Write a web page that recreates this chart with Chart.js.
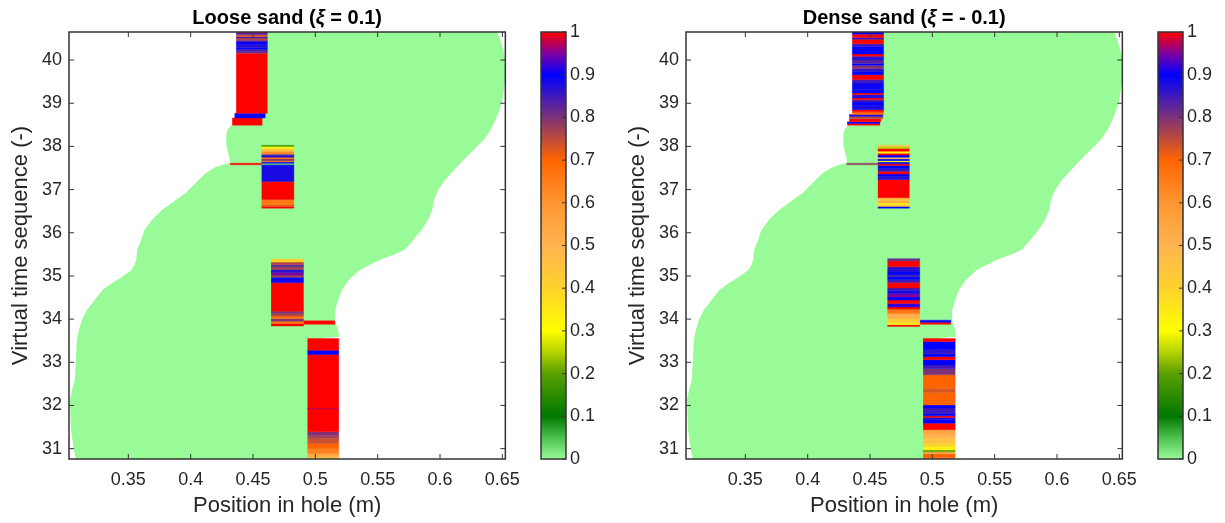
<!DOCTYPE html>
<html>
<head>
<meta charset="utf-8">
<script src="https://cdn.jsdelivr.net/npm/chart.js"></script>
<style>
  html, body { margin: 0; padding: 0; background: #fff; overflow: hidden; }
  canvas { position: absolute; top: 0; }
</style>
</head>
<body>
<canvas id="looseMain" width="530" height="523" style="left:0px"></canvas>
<canvas id="looseBar" width="78" height="523" style="left:530px"></canvas>
<canvas id="denseMain" width="530" height="523" style="left:617px"></canvas>
<canvas id="denseBar" width="78" height="523" style="left:1147px"></canvas>
<script>
// Tick values
const xTicks = [0.35, 0.4, 0.45, 0.5, 0.55, 0.6, 0.65];
const yTicks = [31, 32, 33, 34, 35, 36, 37, 38, 39, 40];
const cbTicks = [0, 0.1, 0.2, 0.3, 0.4, 0.5, 0.6, 0.7, 0.8, 0.9, 1];

// Sand boundary [y, x], top to bottom (same shape in both panels)
const sandLeftEdge = [
  [40.65, 0.455], [38.50, 0.455], [38.49, 0.4325], [38.38, 0.4294], [38.26, 0.4286],
  [38.03, 0.4286], [37.92, 0.4294], [37.75, 0.4310], [37.62, 0.4317], [37.57, 0.4250],
  [37.52, 0.4198], [37.38, 0.4119], [37.15, 0.4040], [36.92, 0.3960], [36.76, 0.3881],
  [36.53, 0.3770], [36.30, 0.3690], [36.06, 0.3627], [35.83, 0.3603], [35.60, 0.3571],
  [35.37, 0.3563], [35.25, 0.3548], [35.14, 0.3524], [34.98, 0.3452], [34.84, 0.3373],
  [34.68, 0.3294], [34.44, 0.3230], [34.21, 0.3167], [33.98, 0.3127], [33.75, 0.3103],
  [33.52, 0.3087], [33.06, 0.3079], [32.59, 0.3071], [32.36, 0.3048], [32.13, 0.3032],
  [31.44, 0.3040], [30.97, 0.3063], [30.76, 0.3079]
];
const sandRightEdge = [
  [40.65, 0.6460], [40.46, 0.6484], [40.23, 0.6508], [40.00, 0.6524], [39.54, 0.6524],
  [39.07, 0.6500], [38.84, 0.6476], [38.61, 0.6444], [38.38, 0.6405], [38.15, 0.6349],
  [37.92, 0.6270], [37.69, 0.6190], [37.45, 0.6111], [37.22, 0.6040], [36.99, 0.5984],
  [36.76, 0.5952], [36.53, 0.5937], [36.30, 0.5905], [36.06, 0.5849], [35.83, 0.5786],
  [35.60, 0.5714], [35.49, 0.5627], [35.37, 0.5516], [35.26, 0.5437], [35.14, 0.5357],
  [34.91, 0.5270], [34.68, 0.5214], [34.44, 0.5183], [34.21, 0.5159], [33.98, 0.5159],
  [33.87, 0.5167], [33.75, 0.5183], [33.59, 0.5190], [33.56, 0.5050], [30.76, 0.5050]
];

// Stripe bands [yFrom, yTo, value] -- loose sand
const looseTop = [
  [40.63, 40.65, 0.97], [40.59, 40.63, 0.84], [40.54, 40.59, 0.73], [40.51, 40.54, 0.85],
  [40.46, 40.51, 0.76], [40.42, 40.46, 0.84], [40.36, 40.42, 0.9], [40.29, 40.36, 0.87],
  [40.25, 40.29, 0.9], [40.19, 40.25, 0.84], [40.16, 40.19, 0.8], [38.77, 40.16, 1]
];
const looseTopFootA = [[38.66, 38.77, 0.89]];
const looseTopFootB = [[38.49, 38.66, 1]];
const looseUpper = [
  [38.00, 38.025, 0.18], [37.95, 38.00, 0.32], [37.89, 37.95, 0.45], [37.82, 37.89, 0.62],
  [37.79, 37.82, 0.85], [37.75, 37.79, 0.88], [37.71, 37.75, 0.68], [37.67, 37.71, 0.8],
  [37.64, 37.67, 0.66], [37.61, 37.64, 0.9], [37.58, 37.61, 0.03], [37.56, 37.58, 0.9],
  [37.19, 37.56, 0.88], [36.77, 37.19, 1], [36.65, 36.77, 0.66], [36.61, 36.65, 0.72],
  [36.57, 36.61, 1]
];
const looseLineA = [[37.575, 37.61, 1]];
const looseMid = [
  [35.32, 35.39, 0.4], [35.26, 35.32, 0.76], [35.21, 35.26, 0.83], [35.15, 35.21, 0.77],
  [35.08, 35.15, 0.87], [35.02, 35.08, 0.95], [34.97, 35.02, 0.78], [34.86, 34.97, 0.89],
  [34.84, 34.86, 0.85], [34.18, 34.84, 1], [34.13, 34.18, 0.8], [34.07, 34.13, 0.76],
  [34.01, 34.07, 0.68], [33.95, 34.01, 0.8], [33.90, 33.95, 0.67], [33.84, 33.90, 1]
];
const looseLineB = [[33.88, 33.96, 1]];
const looseLow = [
  [33.28, 33.55, 1], [33.18, 33.28, 0.9], [31.94, 33.18, 1], [31.92, 31.94, 0.97],
  [31.39, 31.92, 1], [31.31, 31.39, 0.8], [31.24, 31.31, 0.77], [31.12, 31.24, 0.74],
  [31.00, 31.12, 0.7], [30.89, 31.00, 0.64], [30.81, 30.89, 0.55], [30.76, 30.81, 0.45]
];

// Stripe bands [yFrom, yTo, value] -- dense sand
const denseTop = [
  [40.60, 40.65, 0.9], [40.52, 40.60, 1], [40.48, 40.52, 0.86], [40.38, 40.48, 1],
  [40.32, 40.38, 0.85], [40.14, 40.32, 0.9], [40.09, 40.14, 1], [40.00, 40.09, 0.87],
  [39.92, 40.00, 0.83], [39.88, 39.92, 0.9], [39.80, 39.88, 0.8], [39.74, 39.80, 0.86],
  [39.66, 39.74, 0.9], [39.55, 39.66, 1], [39.47, 39.55, 0.85], [39.31, 39.47, 0.89],
  [39.24, 39.31, 0.9], [39.20, 39.24, 1], [39.12, 39.20, 0.87], [39.08, 39.12, 1],
  [39.03, 39.08, 0.85], [38.95, 39.03, 0.9], [38.85, 38.95, 0.88], [38.80, 38.85, 1],
  [38.74, 38.80, 0.7]
];
const denseTopFootA = [[38.69, 38.74, 0.88], [38.64, 38.69, 0.75]];
const denseTopFootB = [[38.57, 38.64, 1]];
const denseTopFootC = [[38.53, 38.57, 0.9], [38.49, 38.53, 1]];
const denseUpper = [
  [37.99, 38.025, 0.45], [37.95, 37.99, 0.25], [37.89, 37.95, 1], [37.84, 37.89, 0.33],
  [37.80, 37.84, 1], [37.75, 37.80, 0.9], [37.71, 37.75, 0.5], [37.67, 37.71, 0.9],
  [37.64, 37.67, 0.3], [37.60, 37.64, 0.9], [37.56, 37.60, 1], [37.48, 37.56, 0.9],
  [37.42, 37.48, 0.85], [37.36, 37.42, 1], [37.31, 37.36, 0.9], [37.23, 37.31, 0.87],
  [36.81, 37.23, 1], [36.74, 36.81, 0.45], [36.69, 36.74, 0.52], [36.65, 36.69, 0.33],
  [36.61, 36.65, 0.45], [36.57, 36.61, 0.9]
];
const denseLineA = [[37.575, 37.61, 0.78]];
const denseMid = [
  [35.35, 35.40, 0.82], [35.21, 35.35, 1], [35.09, 35.21, 0.87], [35.03, 35.09, 0.9],
  [34.98, 35.03, 0.85], [34.92, 34.98, 0.9], [34.85, 34.92, 0.85], [34.72, 34.85, 1],
  [34.67, 34.72, 0.85], [34.59, 34.67, 0.88], [34.51, 34.59, 0.95], [34.44, 34.51, 0.9],
  [34.36, 34.44, 1], [34.28, 34.36, 0.92], [34.23, 34.28, 1], [34.13, 34.23, 0.66],
  [34.01, 34.13, 0.52], [33.92, 34.01, 0.42], [33.87, 33.92, 0.34], [33.83, 33.87, 1]
];
const denseLineB = [[33.93, 33.975, 0.9], [33.88, 33.93, 1]];
const denseLow = [
  [33.48, 33.55, 1], [33.29, 33.48, 0.9], [33.20, 33.29, 0.86], [33.13, 33.20, 0.9],
  [33.06, 33.13, 1], [32.94, 33.06, 0.9], [32.85, 32.94, 0.85], [32.71, 32.85, 0.8],
  [32.40, 32.71, 0.7], [32.30, 32.40, 0.73], [32.01, 32.30, 0.7], [31.94, 32.01, 0.9],
  [31.82, 31.94, 0.85], [31.76, 31.82, 0.9], [31.72, 31.76, 1], [31.67, 31.72, 0.88],
  [31.59, 31.67, 0.9], [31.44, 31.59, 1], [31.34, 31.44, 0.55], [31.24, 31.34, 0.5],
  [31.12, 31.24, 0.45], [31.05, 31.12, 0.4], [30.97, 31.05, 0.33], [30.93, 30.97, 0.2],
  [30.88, 30.93, 0.55], [30.80, 30.88, 0.7], [30.76, 30.80, 0.68]
];

// Blocks: x range in hole (m) + their bands
const looseBlocks = [
  { x: [0.4365, 0.4615], bands: looseTop },
  { x: [0.4352, 0.4598], bands: looseTopFootA },
  { x: [0.4333, 0.4573], bands: looseTopFootB },
  { x: [0.4569, 0.4828], bands: looseUpper },
  { x: [0.4317, 0.4569], bands: looseLineA },
  { x: [0.4645, 0.4905], bands: looseMid },
  { x: [0.4905, 0.5156], bands: looseLineB },
  { x: [0.4937, 0.5188], bands: looseLow }
];
const denseBlocks = [
  { x: [0.4357, 0.4609], bands: denseTop },
  { x: [0.4333, 0.4603], bands: denseTopFootA },
  { x: [0.4333, 0.4587], bands: denseTopFootB },
  { x: [0.4317, 0.4579], bands: denseTopFootC },
  { x: [0.4563, 0.4815], bands: denseUpper },
  { x: [0.4312, 0.4563], bands: denseLineA },
  { x: [0.4640, 0.4899], bands: denseMid },
  { x: [0.4899, 0.5148], bands: denseLineB },
  { x: [0.4926, 0.5183], bands: denseLow }
];

// Colormap
const cmapStops = [
  [0, '#98FB98'], [0.05, '#4CC04C'], [0.1, '#007800'], [0.2, '#5AA000'], [0.25, '#B4D200'],
  [0.3, '#FFFF00'], [0.4, '#FFD22D'], [0.5, '#FFB450'], [0.6, '#FF9632'], [0.7, '#FF6400'],
  [0.8, '#7D3278'], [0.9, '#0000FF'], [0.95, '#8000A0'], [1, '#FF0000']
];

const FONT = '"Liberation Sans", Arial, sans-serif';
const INK = '#262626';

function hexRgb(h) {
  return [1, 3, 5].map(i => parseInt(h.slice(i, i + 2), 16));
}
function cmap(v) {
  for (let i = 1; i < cmapStops.length; i++) {
    const [v1, c1] = cmapStops[i];
    const [v0, c0] = cmapStops[i - 1];
    if (v <= v1) {
      const t = (v - v0) / (v1 - v0);
      const a = hexRgb(c0), b = hexRgb(c1);
      const rgb = a.map((ch, k) => Math.round(ch + (b[k] - ch) * t));
      return `rgb(${rgb.join(',')})`;
    }
  }
  return cmapStops[cmapStops.length - 1][1];
}

// Plugins
const titlePlugin = {
  id: 'panelTitle',
  afterDraw(chart, args, opts) {
    const { ctx, chartArea } = chart;
    ctx.save();
    const fonts = opts.parts.map(p => (p[1] ? 'italic ' : '') + 'bold 20px ' + FONT);
    const widths = opts.parts.map((p, i) => { ctx.font = fonts[i]; return ctx.measureText(p[0]).width; });
    let x = (chartArea.left + chartArea.right) / 2 - widths.reduce((a, b) => a + b, 0) / 2;
    ctx.fillStyle = '#000';
    ctx.textBaseline = 'alphabetic';
    opts.parts.forEach((p, i) => {
      ctx.font = fonts[i];
      ctx.fillText(p[0], x, 24);
      x += widths[i];
    });
    ctx.restore();
  }
};

const framePlugin = {
  id: 'frame',
  afterDatasetsDraw(chart) {
    const { ctx, chartArea: a, scales } = chart;
    ctx.save();
    ctx.strokeStyle = '#333';
    ctx.lineWidth = 1;
    ctx.beginPath();
    if (scales.x && scales.x.options.display !== false) {
      scales.x.ticks.forEach(t => {
        const px = scales.x.getPixelForValue(t.value);
        ctx.moveTo(px, a.bottom); ctx.lineTo(px, a.bottom - 5);
        ctx.moveTo(px, a.top); ctx.lineTo(px, a.top + 5);
      });
      scales.y.ticks.forEach(t => {
        const py = scales.y.getPixelForValue(t.value);
        ctx.moveTo(a.left, py); ctx.lineTo(a.left + 5, py);
        ctx.moveTo(a.right, py); ctx.lineTo(a.right - 5, py);
      });
    } else {
      scales.y.ticks.forEach(t => {
        const py = scales.y.getPixelForValue(t.value);
        ctx.moveTo(a.right, py); ctx.lineTo(a.right - 4, py);
      });
    }
    ctx.stroke();
    ctx.lineWidth = 1.5;
    ctx.strokeRect(a.left, a.top, a.right - a.left, a.bottom - a.top);
    ctx.restore();
  }
};

function sandDataset() {
  const pts = sandLeftEdge.map(([y, x]) => ({ x, y }))
    .concat(sandRightEdge.slice().reverse().map(([y, x]) => ({ x, y })));
  return {
    data: pts, showLine: true, fill: 'shape', order: 1,
    backgroundColor: cmap(0), borderColor: 'rgba(0,0,0,0)', borderWidth: 0, pointRadius: 0
  };
}

function bandDatasets(blocks) {
  const out = [];
  blocks.forEach(b => {
    const [x0, x1] = b.x;
    b.bands.forEach(([y0, y1, v]) => {
      const c = cmap(v);
      out.push({
        data: [{ x: x0, y: y0 }, { x: x1, y: y0 }, { x: x1, y: y1 }, { x: x0, y: y1 }],
        showLine: true, fill: 'shape', order: 0,
        backgroundColor: c, borderColor: c, borderWidth: 0.4, pointRadius: 0
      });
    });
  });
  return out;
}

const tickFont = { family: FONT, size: 18 };
const axisFont = { family: FONT, size: 22 };

function makePanel(id, titleParts, blocks) {
  new Chart(document.getElementById(id), {
    type: 'scatter',
    data: { datasets: [sandDataset()].concat(bandDatasets(blocks)) },
    options: {
      responsive: false, animation: false, events: [],
      layout: { padding: { left: 0, top: 32, right: 19, bottom: 0 } },
      plugins: { legend: { display: false }, tooltip: { enabled: false }, panelTitle: { parts: titleParts } },
      scales: {
        x: {
          type: 'linear', min: 0.3024, max: 0.6524,
          afterBuildTicks: s => { s.ticks = xTicks.map(v => ({ value: v })); },
          afterFit: s => { s.height = 64; },
          grid: { display: false, drawTicks: false }, border: { display: false },
          ticks: { padding: 10, color: INK, font: tickFont, maxRotation: 0, callback: v => String(v) },
          title: { display: true, text: 'Position in hole (m)', color: INK, font: axisFont, padding: { top: 0, bottom: 4 } }
        },
        y: {
          type: 'linear', min: 30.76, max: 40.65,
          afterBuildTicks: s => { s.ticks = yTicks.map(v => ({ value: v })); },
          afterFit: s => { s.width = 69; },
          grid: { display: false, drawTicks: false }, border: { display: false },
          ticks: { padding: 7, color: INK, font: tickFont, callback: v => String(v) },
          title: { display: true, text: 'Virtual time sequence (-)', color: INK, font: axisFont, padding: { top: 8, bottom: 0 } }
        }
      }
    },
    plugins: [titlePlugin, framePlugin]
  });
}

function barGradient(chart) {
  const { ctx, chartArea, scales } = chart;
  if (!chartArea) return null;
  const g = ctx.createLinearGradient(0, scales.y.getPixelForValue(0), 0, scales.y.getPixelForValue(1));
  cmapStops.forEach(([v, c]) => g.addColorStop(v, c));
  return g;
}

function makeColorbar(id) {
  new Chart(document.getElementById(id), {
    type: 'bar',
    data: {
      labels: [''],
      datasets: [{
        data: [[0, 1]], backgroundColor: c => barGradient(c.chart),
        barPercentage: 1, categoryPercentage: 1, borderWidth: 0
      }]
    },
    options: {
      responsive: false, animation: false, events: [],
      layout: { padding: { left: 11, top: 32, right: 0, bottom: 64 } },
      plugins: { legend: { display: false }, tooltip: { enabled: false } },
      scales: {
        x: { display: false },
        y: {
          position: 'right', min: 0, max: 1,
          afterBuildTicks: s => { s.ticks = cbTicks.map(v => ({ value: v })); },
          afterFit: s => { s.width = 42; },
          grid: { display: false, drawTicks: false }, border: { display: false },
          ticks: { padding: 4, color: INK, font: tickFont, callback: v => String(v) }
        }
      }
    },
    plugins: [framePlugin]
  });
}

makePanel('looseMain', [['Loose sand (', false], ['\u03BE', true], [' = 0.1)', false]], looseBlocks);
makePanel('denseMain', [['Dense sand (', false], ['\u03BE', true], [' = - 0.1)', false]], denseBlocks);
makeColorbar('looseBar');
makeColorbar('denseBar');
</script>
</body>
</html>
